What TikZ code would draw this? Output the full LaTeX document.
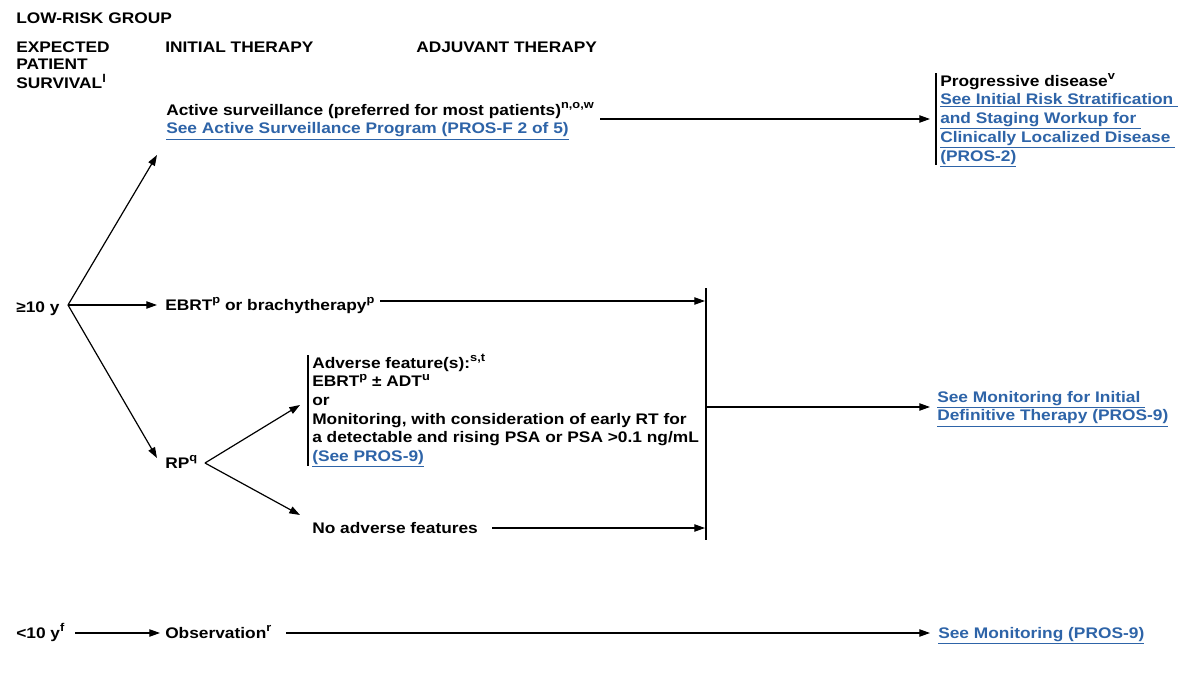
\documentclass[tikz,border=0pt]{standalone}
\usepackage{fontspec}
\setmainfont[FakeStretch=1.13]{Liberation Sans}
\usetikzlibrary{arrows.meta}
\definecolor{linkblue}{RGB}{46,100,168}
\newcommand\lnk[1]{{\color{linkblue}\underline{#1}}}
\newcommand\sps[1]{\raisebox{0.42em}{\fontsize{8.5}{9}\selectfont #1}}
\newcommand\lines[1]{\begin{tabular}[t]{@{}l@{}}#1\end{tabular}}
\begin{document}
\begin{tikzpicture}[x=0.75pt,y=-0.75pt,
  every node/.style={inner sep=0pt, anchor=base west, font=\fontsize{11.5}{14}\selectfont\bfseries},
  hdr/.style={font=\fontsize{11.5}{12.75}\selectfont\bfseries},
  conn/.style={line width=0.9pt, -{Triangle[length=8pt,width=5.5pt]}},
  bar/.style={line width=0.9pt}]
\useasboundingbox[fill=white] (0,0) rectangle (1200,675);

% headers
\node[hdr] (title) at (16,23) {LOW-RISK GROUP};
\node[hdr] (hsurv) at (16,52) {\lines{EXPECTED\\PATIENT\\SURVIVAL\sps{l}}};
\node[hdr] (hinit) at (165,52) {INITIAL THERAPY};
\node[hdr] (hadj) at (416,52) {ADJUVANT THERAPY};

% nodes
\node (as) at (166,115) {\lines{Active surveillance (preferred for most patients)\sps{n,o,w}\\\lnk{See Active Surveillance Program (PROS-F 2 of 5)}}};
\node (pd) at (940,86) {\lines{Progressive disease\sps{v}\\\lnk{See Initial Risk Stratification\ }\\\lnk{and Staging Workup for\ }\\\lnk{Clinically Localized Disease\ }\\\lnk{(PROS-2)}}};
\node (ge10) at (16,312) {≥10 y};
\node (ebrt) at (165,310) {EBRT\sps{p} or brachytherapy\sps{p}};
\node (rp) at (165,468) {RP\sps{q}};
\node (adv) at (312,368) {\lines{Adverse feature(s):\sps{s,t}\\EBRT\sps{p} ± ADT\sps{u}\\or\\Monitoring, with consideration of early RT for\\a detectable and rising PSA or PSA >0.1 ng/mL\\\lnk{(See PROS-9)}}};
\node (noadv) at (312,533) {No adverse features};
\node (moninit) at (937,402) {\lines{\lnk{See Monitoring for Initial\ }\\\lnk{Definitive Therapy (PROS-9)}}};
\node (lt10) at (16,638) {<10 y\sps{f}};
\node (obs) at (165,638) {Observation\sps{r}};
\node (mon) at (938,638) {\lnk{See Monitoring (PROS-9)}};

% coordinates
\coordinate (f1) at (68,305);
\coordinate (f1a) at (157,155);
\coordinate (f1b) at (157,305);
\coordinate (f1c) at (157,458);
\coordinate (f2) at (205,463);
\coordinate (f2a) at (300,405);
\coordinate (f2b) at (300,515);
\coordinate (asout) at (600,119);
\coordinate (pdin) at (930,119);
\coordinate (pdtop) at (936,73);
\coordinate (pdbot) at (936,165);
\coordinate (ebout) at (380,301);
\coordinate (colin1) at (705,301);
\coordinate (coltop) at (706,288);
\coordinate (colbot) at (706,540);
\coordinate (colmid) at (706,407);
\coordinate (monin) at (930,407);
\coordinate (advtop) at (308,355);
\coordinate (advbot) at (308,466);
\coordinate (noout) at (492,528);
\coordinate (colin2) at (705,528);
\coordinate (lt10out) at (75,633);
\coordinate (obsin) at (160,633);
\coordinate (obsout) at (286,633);
\coordinate (monin2) at (930,633);

% connectors
\draw[conn] (f1) -- (f1a);
\draw[conn] (f1) -- (f1b);
\draw[conn] (f1) -- (f1c);
\draw[conn] (f2) -- (f2a);
\draw[conn] (f2) -- (f2b);
\draw[conn] (asout) -- (pdin);
\draw[bar] (pdtop) -- (pdbot);
\draw[conn] (ebout) -- (colin1);
\draw[bar] (coltop) -- (colbot);
\draw[conn] (colmid) -- (monin);
\draw[bar] (advtop) -- (advbot);
\draw[conn] (noout) -- (colin2);
\draw[conn] (lt10out) -- (obsin);
\draw[conn] (obsout) -- (monin2);
\end{tikzpicture}
\end{document}
